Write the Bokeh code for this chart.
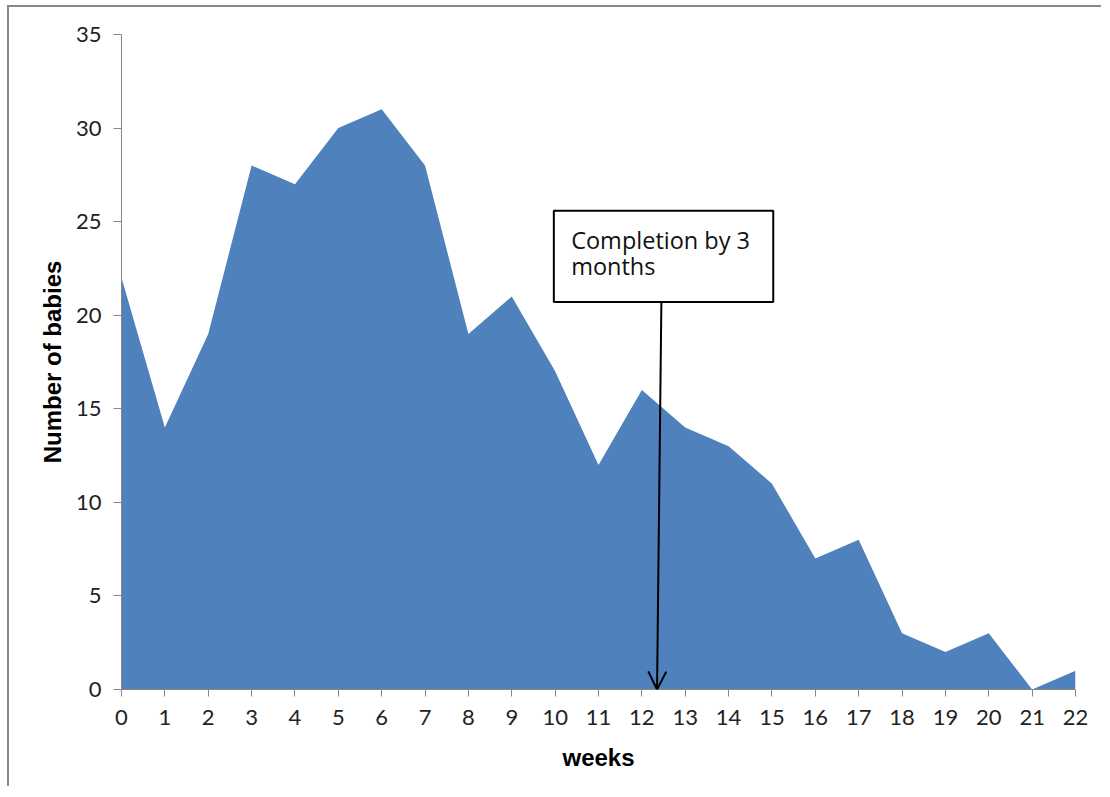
from bokeh.plotting import figure
from bokeh.models import Range1d, FixedTicker, Label, BoxAnnotation, Arrow, OpenHead
from bokeh.embed import file_html
from bokeh.resources import INLINE

weeks = list(range(0, 23))
babies = [22, 14, 19, 28, 27, 30, 31, 28, 19, 21, 17, 12, 16, 14, 13, 11, 7, 8, 3, 2, 3, 0, 1]
y_ticks = [0, 5, 10, 15, 20, 25, 30, 35]
annotation_text = ["Completion by 3", "months"]

W, H = 1094, 781
p = figure(width=W, height=H, output_backend="svg", toolbar_location=None,
           x_range=Range1d(0, 22), y_range=Range1d(0, 35),
           min_border_left=112, min_border_right=28, min_border_top=27, min_border_bottom=99)
p.styles = {"border-left": "2px solid #878787", "border-top": "2px solid #878787",
            "margin-left": "7px", "margin-top": "5px"}
p.outline_line_color = None
p.grid.visible = False
p.background_fill_color = "white"

p.varea(x=weeks, y1=[0] * len(weeks), y2=babies, fill_color="#4F81BD")

font = "Lato"
for ax in (p.xaxis[0], p.yaxis[0]):
    ax.axis_line_color = "#868686"
    ax.major_tick_line_color = "#868686"
    ax.minor_tick_line_color = None
    ax.major_tick_in = 0
    ax.major_label_text_font = font
    ax.major_label_text_font_size = "22px"
    ax.major_label_text_color = "#222222"
    ax.axis_label_text_font = "Liberation Sans"
    ax.axis_label_text_font_style = "bold"
    ax.axis_label_text_font_size = "24px"
    ax.axis_label_text_color = "black"

p.xaxis.ticker = FixedTicker(ticks=weeks)
p.yaxis.ticker = FixedTicker(ticks=y_ticks)
p.xaxis.major_tick_out = 7
p.yaxis.major_tick_out = 8
p.xaxis.major_label_standoff = 13
p.yaxis.major_label_standoff = 12
p.xaxis.axis_label = "weeks"
p.yaxis.axis_label = "Number of babies"
p.xaxis.axis_label_standoff = 16
p.yaxis.axis_label_standoff = 7

box = BoxAnnotation(left=9.97, right=15.03, bottom=20.7, top=25.58,
                    fill_color="white", fill_alpha=1.0, line_color="black",
                    line_alpha=1.0, line_width=2)
p.add_layout(box)
ann_font = "Open Sans"
p.add_layout(Label(x=10.37, y=24.9, text=annotation_text[0], text_font=ann_font,
                   text_font_size="23.5px", text_baseline="top", text_color="#111111"))
p.add_layout(Label(x=10.37, y=23.5, text=annotation_text[1], text_font=ann_font,
                   text_font_size="23.5px", text_baseline="top", text_color="#111111"))
p.add_layout(Arrow(x_start=12.45, y_start=20.7, x_end=12.35, y_end=0,
                   line_color="black", line_width=2,
                   end=OpenHead(size=18, line_color="black", line_width=2)))

open("out.html", "w").write(file_html(p, INLINE))
